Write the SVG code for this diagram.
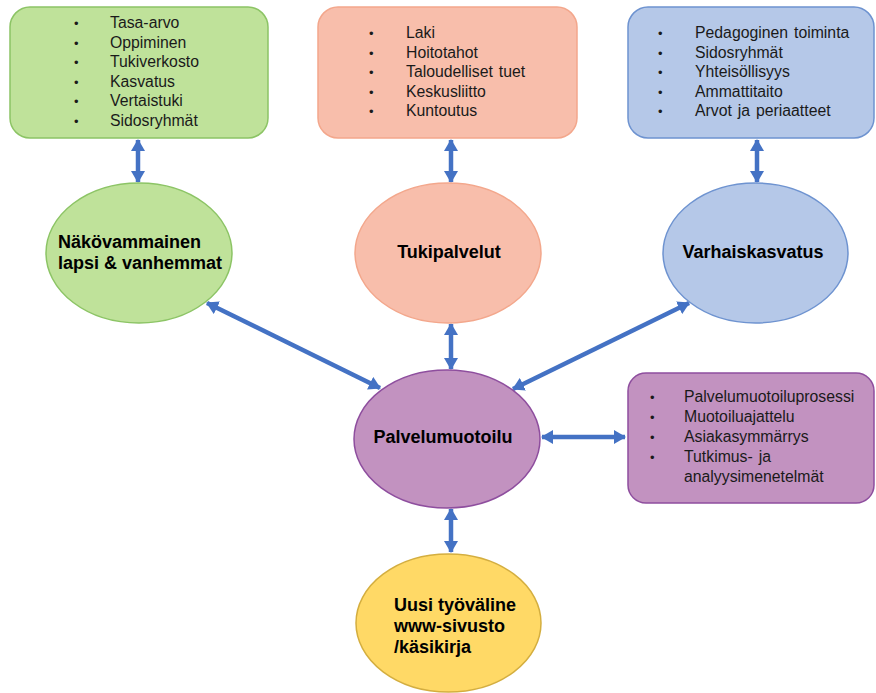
<svg xmlns="http://www.w3.org/2000/svg" width="876" height="693" viewBox="0 0 876 693">
  <defs>
    <style>
      .list { font-family: "Liberation Sans", Arial, sans-serif; font-size: 15.8px; fill: #1a1a1a; word-spacing: 1.5px; }
      .bul { font-size: 13px; }
      .title { font-family: "Liberation Sans", Arial, sans-serif; font-size: 18px; font-weight: bold; fill: #000; }
      .conn { stroke: #4472C4; stroke-width: 4.5; fill: none; marker-start: url(#head); marker-end: url(#head); }
      .green { fill: #BFE29A; stroke: #8CC465; stroke-width: 1.5; }
      .salmon { fill: #F8BEAB; stroke: #F3A78C; stroke-width: 1.5; }
      .blue { fill: #B5C8E8; stroke: #6E93D0; stroke-width: 1.5; }
      .purple { fill: #C292C0; stroke: #8E4E9E; stroke-width: 1.5; }
      .yellow { fill: #FFD966; stroke: #D4AE3F; stroke-width: 1.5; }
    </style>
    <marker id="head" viewBox="0 0 12 14" refX="11" refY="7" markerWidth="12" markerHeight="14" markerUnits="userSpaceOnUse" orient="auto-start-reverse">
      <path d="M0,0 L12,7 L0,14 z" fill="#4472C4"/>
    </marker>
  </defs>

  <!-- connectors -->
  <g id="connectors">
    <line class="conn" x1="138" y1="140" x2="138" y2="182"/>
    <line class="conn" x1="451" y1="140" x2="451" y2="182"/>
    <line class="conn" x1="757" y1="140" x2="757" y2="182"/>
    <line class="conn" x1="451" y1="324" x2="451" y2="369"/>
    <line class="conn" x1="207" y1="303" x2="380" y2="388"/>
    <line class="conn" x1="689" y1="303" x2="513" y2="389"/>
    <line class="conn" x1="542" y1="437" x2="625" y2="437"/>
    <line class="conn" x1="451" y1="509" x2="451" y2="552"/>
  </g>

  <!-- top boxes -->
  <g id="box-lapsi">
    <rect class="green" x="10" y="7" width="258" height="131" rx="20"/>
    <g class="list">
      <text class="bul" x="74" y="28">•</text><text x="110" y="28">Tasa-arvo</text>
      <text class="bul" x="74" y="47.5">•</text><text x="110" y="47.5">Oppiminen</text>
      <text class="bul" x="74" y="67">•</text><text x="110" y="67">Tukiverkosto</text>
      <text class="bul" x="74" y="86.5">•</text><text x="110" y="86.5">Kasvatus</text>
      <text class="bul" x="74" y="106">•</text><text x="110" y="106">Vertaistuki</text>
      <text class="bul" x="74" y="125.5">•</text><text x="110" y="125.5">Sidosryhmät</text>
    </g>
  </g>

  <g id="box-tuki">
    <rect class="salmon" x="318" y="7" width="259" height="131" rx="20"/>
    <g class="list">
      <text class="bul" x="369" y="38">•</text><text x="406" y="38">Laki</text>
      <text class="bul" x="369" y="57.5">•</text><text x="406" y="57.5">Hoitotahot</text>
      <text class="bul" x="369" y="77">•</text><text x="406" y="77">Taloudelliset tuet</text>
      <text class="bul" x="369" y="96.5">•</text><text x="406" y="96.5">Keskusliitto</text>
      <text class="bul" x="369" y="116">•</text><text x="406" y="116">Kuntoutus</text>
    </g>
  </g>

  <g id="box-varhais">
    <rect class="blue" x="628" y="7" width="246" height="131" rx="20"/>
    <g class="list">
      <text class="bul" x="658" y="38">•</text><text x="695" y="38">Pedagoginen toiminta</text>
      <text class="bul" x="658" y="57.5">•</text><text x="695" y="57.5">Sidosryhmät</text>
      <text class="bul" x="658" y="77">•</text><text x="695" y="77">Yhteisöllisyys</text>
      <text class="bul" x="658" y="96.5">•</text><text x="695" y="96.5">Ammattitaito</text>
      <text class="bul" x="658" y="116">•</text><text x="695" y="116">Arvot ja periaatteet</text>
    </g>
  </g>

  <!-- ellipses -->
  <g id="node-lapsi">
    <ellipse class="green" cx="139" cy="253" rx="93" ry="70"/>
    <text class="title" x="58" y="248">Näkövammainen</text>
    <text class="title" x="58" y="269">lapsi &amp; vanhemmat</text>
  </g>

  <g id="node-tuki">
    <ellipse class="salmon" cx="448" cy="253" rx="93" ry="70"/>
    <text class="title" x="449" y="258" text-anchor="middle">Tukipalvelut</text>
  </g>

  <g id="node-varhais">
    <ellipse class="blue" cx="755.5" cy="253" rx="92.5" ry="70"/>
    <text class="title" x="753" y="258" text-anchor="middle">Varhaiskasvatus</text>
  </g>

  <g id="node-palvelu">
    <ellipse class="purple" cx="447" cy="439" rx="93" ry="69"/>
    <text class="title" x="443" y="443" text-anchor="middle">Palvelumuotoilu</text>
  </g>

  <g id="box-palvelu">
    <rect class="purple" x="628" y="373" width="246" height="130" rx="18"/>
    <g class="list">
      <text class="bul" x="650" y="402">•</text><text x="684" y="402">Palvelumuotoiluprosessi</text>
      <text class="bul" x="650" y="422">•</text><text x="684" y="422">Muotoiluajattelu</text>
      <text class="bul" x="650" y="442">•</text><text x="684" y="442">Asiakasymmärrys</text>
      <text class="bul" x="650" y="462">•</text><text x="684" y="462">Tutkimus- ja</text>
      <text x="684" y="482">analyysimenetelmät</text>
    </g>
  </g>

  <g id="node-tyovaline">
    <ellipse class="yellow" cx="448.5" cy="623" rx="92.5" ry="69"/>
    <text class="title" x="394" y="611">Uusi työväline</text>
    <text class="title" x="394" y="632">www-sivusto</text>
    <text class="title" x="394" y="653">/käsikirja</text>
  </g>
</svg>
